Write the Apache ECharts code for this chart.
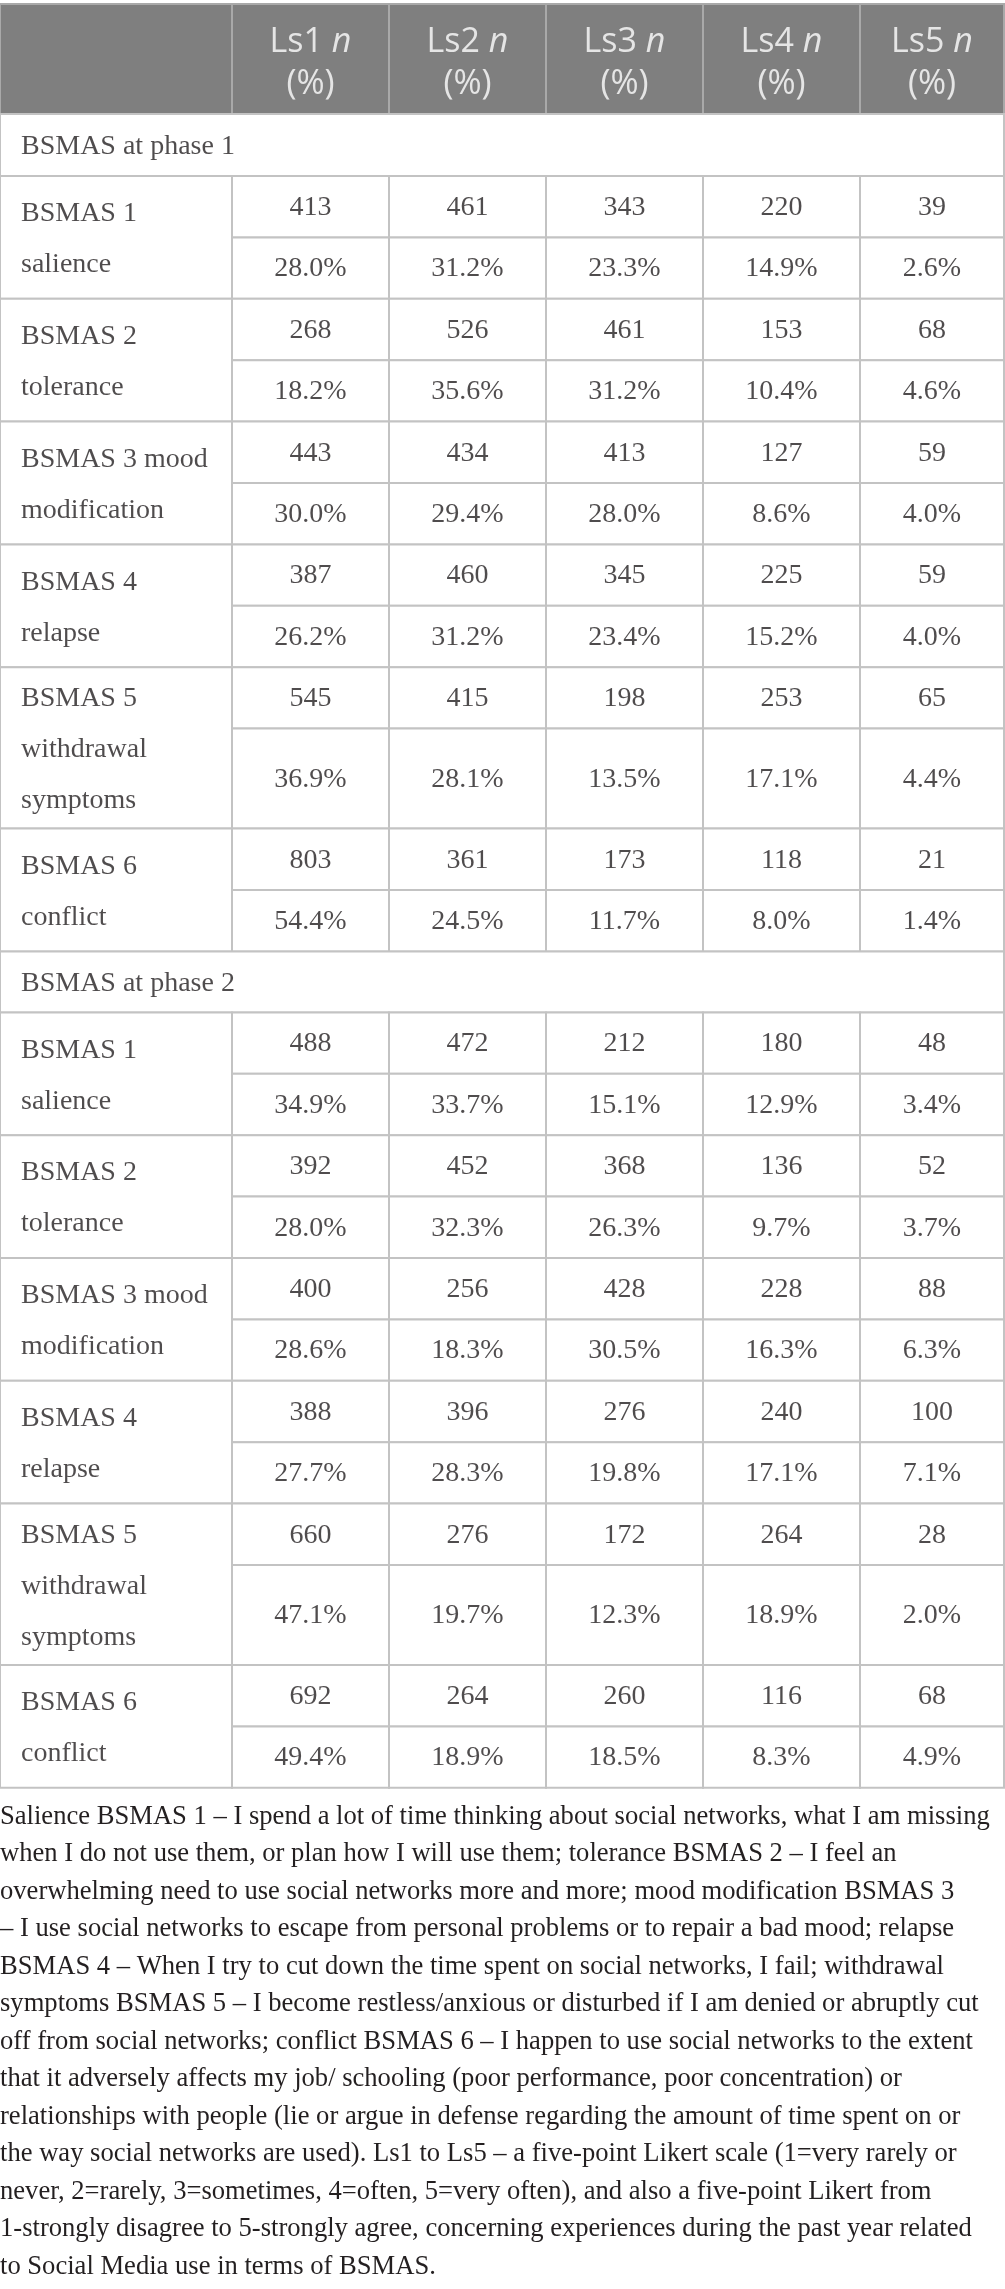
<!DOCTYPE html>
<html>
<head>
<meta charset="utf-8">
<script src="https://cdn.jsdelivr.net/npm/echarts@6/dist/echarts.min.js"></script>
<style>
  html, body { margin: 0; padding: 0; background: #fff; }
  #chart { width: 1005px; height: 2289px; }
</style>
</head>
<body>
<div id="chart"></div>
<script>
const columns = ['Ls1', 'Ls2', 'Ls3', 'Ls4', 'Ls5'];
const sections = ['BSMAS at phase 1', 'BSMAS at phase 2'];
const items = [
  'BSMAS 1\nsalience',
  'BSMAS 2\ntolerance',
  'BSMAS 3 mood\nmodification',
  'BSMAS 4\nrelapse',
  'BSMAS 5\nwithdrawal\nsymptoms',
  'BSMAS 6\nconflict'
];
const phase1Counts = [
  [413, 461, 343, 220, 39],
  [268, 526, 461, 153, 68],
  [443, 434, 413, 127, 59],
  [387, 460, 345, 225, 59],
  [545, 415, 198, 253, 65],
  [803, 361, 173, 118, 21]
];
const phase1Pct = [
  [28.0, 31.2, 23.3, 14.9, 2.6],
  [18.2, 35.6, 31.2, 10.4, 4.6],
  [30.0, 29.4, 28.0, 8.6, 4.0],
  [26.2, 31.2, 23.4, 15.2, 4.0],
  [36.9, 28.1, 13.5, 17.1, 4.4],
  [54.4, 24.5, 11.7, 8.0, 1.4]
];
const phase2Counts = [
  [488, 472, 212, 180, 48],
  [392, 452, 368, 136, 52],
  [400, 256, 428, 228, 88],
  [388, 396, 276, 240, 100],
  [660, 276, 172, 264, 28],
  [692, 264, 260, 116, 68]
];
const phase2Pct = [
  [34.9, 33.7, 15.1, 12.9, 3.4],
  [28.0, 32.3, 26.3, 9.7, 3.7],
  [28.6, 18.3, 30.5, 16.3, 6.3],
  [27.7, 28.3, 19.8, 17.1, 7.1],
  [47.1, 19.7, 12.3, 18.9, 2.0],
  [49.4, 18.9, 18.5, 8.3, 4.9]
];
const footnoteLines = [
  'Salience BSMAS 1 \u2013 I spend a lot of time thinking about social networks, what I am missing',
  'when I do not use them, or plan how I will use them; tolerance BSMAS 2 \u2013 I feel an',
  'overwhelming need to use social networks more and more; mood modification BSMAS 3',
  '\u2013 I use social networks to escape from personal problems or to repair a bad mood; relapse',
  'BSMAS 4 \u2013 When I try to cut down the time spent on social networks, I fail; withdrawal',
  'symptoms BSMAS 5 \u2013 I become restless/anxious or disturbed if I am denied or abruptly cut',
  'off from social networks; conflict BSMAS 6 \u2013 I happen to use social networks to the extent',
  'that it adversely affects my job/ schooling (poor performance, poor concentration) or',
  'relationships with people (lie or argue in defense regarding the amount of time spent on or',
  'the way social networks are used). Ls1 to Ls5 \u2013 a five-point Likert scale (1=very rarely or',
  'never, 2=rarely, 3=sometimes, 4=often, 5=very often), and also a five-point Likert from',
  '1-strongly disagree to 5-strongly agree, concerning experiences during the past year related',
  'to Social Media use in terms of BSMAS.'
];

// --- layout (table units = px) ---
const colEdges = [0, 232, 389, 546, 703, 860, 1004];
const serif = 'Liberation Serif';
const sans = 'Open Sans';
const ink = '#231f20';

const rowHeights = [];
const cells = [];
function addRow(h) { rowHeights.push(h); return rowHeights.length - 1; }

let r = addRow(110);
cells.push({ col: 0, row: r, span: 1, kind: 'head', text: '' });
columns.forEach(function (c, i) {
  cells.push({ col: i + 1, row: r, span: 1, kind: 'head', text: '{a|' + c + ' }{i|n}\n{a|(%)}' });
});

[[phase1Counts, phase1Pct], [phase2Counts, phase2Pct]].forEach(function (ph, p) {
  r = addRow(p === 0 ? 62 : 61);
  cells.push({ col: 0, row: r, span: 1, full: true, kind: 'label', text: sections[p] });
  items.forEach(function (label, k) {
    const tall = label.split('\n').length > 2;
    const rn = addRow(61.4);
    const rp = addRow(tall ? 100 : 61.4);
    cells.push({ col: 0, row: rn, span: 2, kind: 'label', text: label });
    ph[0][k].forEach(function (v, j) {
      cells.push({ col: j + 1, row: rn, span: 1, kind: 'num', text: String(v) });
    });
    ph[1][k].forEach(function (v, j) {
      cells.push({ col: j + 1, row: rp, span: 1, kind: 'num', text: v.toFixed(1) + '%' });
    });
  });
});

const rowTops = [4];
rowHeights.forEach(function (h, i) { rowTops.push(rowTops[i] + h); });

function cellBox(cell) {
  return {
    x0: colEdges[cell.col],
    x1: cell.full ? colEdges[colEdges.length - 1] : colEdges[cell.col + 1],
    y0: rowTops[cell.row],
    y1: rowTops[cell.row + cell.span]
  };
}

function renderCell(params, api) {
  const cell = cells[params.dataIndex];
  const b = cellBox(cell);
  const p0 = api.coord([b.x0, b.y0]);
  const p1 = api.coord([b.x1, b.y1]);
  const head = cell.kind === 'head';
  return {
    type: 'rect',
    shape: { x: p0[0], y: p0[1], width: p1[0] - p0[0], height: p1[1] - p0[1] },
    style: { fill: head ? '#7f7f7f' : '#fff', stroke: head ? '#a9a9a9' : '#c3c3c3', lineWidth: 2 }
  };
}

// text anchors: centre of the cell for numbers / header, left padding for labels
const textData = cells.filter(function (c) { return c.text; }).map(function (c) {
  const b = cellBox(c);
  const yc = (b.y0 + b.y1) / 2;
  if (c.kind === 'label') {
    return { value: [b.x0 + 21, yc + 2], text: c.text, label: { position: 'right', distance: 0, align: 'left' } };
  }
  return { value: [(b.x0 + b.x1) / 2, yc + (c.kind === 'head' ? 4 : 1)], text: c.text,
    label: { position: 'inside', align: 'center' } };
});

const chart = echarts.init(document.getElementById('chart'));
chart.setOption({
  animation: false,
  grid: { left: 0, right: 0, top: 0, bottom: 0 },
  xAxis: { type: 'value', min: 0, max: 1005, show: false },
  yAxis: { type: 'value', min: 0, max: 2289, inverse: true, show: false },
  graphic: [{
    type: 'text',
    left: 0,
    top: 1798,
    style: { text: footnoteLines.join('\n'), font: '26.6px "Liberation Serif", serif', lineHeight: 37.5, fill: ink }
  }],
  series: [{
    type: 'custom',
    renderItem: renderCell,
    data: cells.map(function (c) { return [c.col, c.row]; }),
    silent: true
  }, {
    type: 'scatter',
    symbolSize: 0,
    silent: true,
    emphasis: { disabled: true },
    data: textData,
    label: {
      show: true,
      formatter: function (p) { return p.data.text; },
      fontFamily: serif,
      fontSize: 28,
      lineHeight: 51,
      color: ink,
      verticalAlign: 'middle',
      rich: {
        a: { fontFamily: sans, fontSize: 34, color: '#fff', lineHeight: 42 },
        i: { fontFamily: sans, fontSize: 34, fontStyle: 'italic', color: '#fff', lineHeight: 42 }
      }
    }
  }]
});
</script>
</body>
</html>
